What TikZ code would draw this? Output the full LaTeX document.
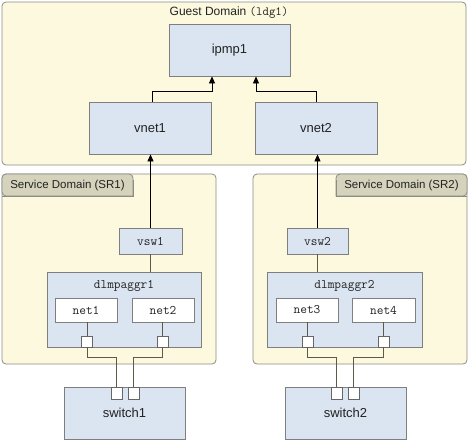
\documentclass[tikz,border=0pt]{standalone}
\usepackage{fontspec}
\setmainfont{Liberation Sans}
\usetikzlibrary{arrows.meta}
\definecolor{domfill}{HTML}{FCF9DE}
\definecolor{domline}{HTML}{8C8C86}
\definecolor{boxfill}{HTML}{DBE5F1}
\definecolor{boxline}{HTML}{7F7F7F}
\definecolor{tabfill}{HTML}{D6D3BD}
\definecolor{wire}{HTML}{5C5B4A}
\definecolor{txt}{HTML}{222222}
\tikzset{
  dombox/.style={draw=domline, fill=domfill, rounded corners=4pt, line width=0.8pt, inner sep=0pt},
  bluebox/.style={draw=boxline, fill=boxfill, line width=0.8pt, inner sep=0pt, text=txt, font=\fontsize{13}{15}\selectfont},
  monobox/.style={bluebox, font=\ttfamily\fontsize{13}{15}\selectfont},
  netbox/.style={draw=boxline, fill=white, line width=0.8pt, inner sep=0pt, text=txt, font=\ttfamily\fontsize{13}{15}\selectfont},
  portbox/.style={draw=boxline!80!black, fill=white, line width=0.8pt, inner sep=0pt, minimum width=11pt, minimum height=11pt},
  tablabel/.style={text=txt, font=\fontsize{11.5}{13}\selectfont},
  arr/.style={draw=black, line width=0.8pt, -{Triangle[length=7pt,width=6pt]}},
  conn/.style={draw=wire, line width=0.8pt}
}
\begin{document}
\begin{tikzpicture}[x=1pt,y=-1pt]
\useasboundingbox (0,0) rectangle (468,440);
% domains
\node[dombox, minimum width=464pt, minimum height=163pt] (guest) at (234,83.5) {};
\node[text=txt, font=\fontsize{12}{14}\selectfont] (guestlbl) at (229,13) {Guest Domain {\ttfamily\fontsize{12.5}{14}\selectfont(ldg1)}};
\node[dombox, minimum width=214pt, minimum height=190pt] (sr1) at (109,269) {};
\node[dombox, minimum width=214pt, minimum height=190pt] (sr2) at (360,269) {};
% tabs
\fill[tabfill, draw=domline, line width=0.8pt, rounded corners=4pt]
  (133,196) -- (133,174) -- (2,174) -- (2,196) [sharp corners] -- cycle;
\draw[domline, line width=0.8pt] (2,196) -- (133,196) -- (133,180);
\node[tablabel] (sr1lbl) at (67.5,185.5) {Service Domain (SR1)};
\fill[tabfill, draw=domline, line width=0.8pt, rounded corners=4pt]
  (336,196) -- (336,174) -- (467,174) -- (467,196) [sharp corners] -- cycle;
\draw[domline, line width=0.8pt] (467,196) -- (336,196) -- (336,180);
\node[tablabel] (sr2lbl) at (401.5,185.5) {Service Domain (SR2)};
% guest boxes
\node[bluebox, minimum width=121pt, minimum height=52pt] (ipmp) at (229.5,50) {ipmp1};
\node[bluebox, minimum width=122pt, minimum height=52pt] (vnet1) at (150,128) {vnet1};
\node[bluebox, minimum width=122pt, minimum height=52pt] (vnet2) at (316,128) {vnet2};
% service domain 1
\node[monobox, minimum width=63pt, minimum height=26pt] (vsw1) at (150.5,241) {vsw1};
\node[bluebox, minimum width=154pt, minimum height=75pt] (agg1) at (124,309.5) {};
\node[text=txt, font=\ttfamily\fontsize{13}{15}\selectfont] (agg1lbl) at (124,286) {dlmpaggr1};
\node[netbox, minimum width=62pt, minimum height=24pt] (net1) at (86,310) {net1};
\node[netbox, minimum width=62pt, minimum height=24pt] (net2) at (163,310) {net2};
\node[portbox] (p1) at (87,341.5) {};
\node[portbox] (p2) at (162.5,341.5) {};
\node[bluebox, minimum width=121pt, minimum height=52pt] (sw1) at (124.5,413) {\raisebox{-4pt}{switch1}};
\node[portbox, minimum height=12pt] (s1a) at (116.5,393) {};
\node[portbox, minimum height=12pt] (s1b) at (133.5,393) {};
% service domain 2
\node[monobox, minimum width=61pt, minimum height=26pt] (vsw2) at (317.5,241) {vsw2};
\node[bluebox, minimum width=155pt, minimum height=75pt] (agg2) at (344.5,309.5) {};
\node[text=txt, font=\ttfamily\fontsize{13}{15}\selectfont] (agg2lbl) at (344.5,286) {dlmpaggr2};
\node[netbox, minimum width=62pt, minimum height=24pt] (net3) at (307,310) {net3};
\node[netbox, minimum width=63pt, minimum height=24pt] (net4) at (383.5,310) {net4};
\node[portbox] (p3) at (307.5,341.5) {};
\node[portbox] (p4) at (383.5,341.5) {};
\node[bluebox, minimum width=121pt, minimum height=52pt] (sw2) at (345.5,413) {\raisebox{-4pt}{switch2}};
\node[portbox, minimum height=12pt] (s2a) at (336.5,393) {};
\node[portbox, minimum height=12pt] (s2b) at (353.5,393) {};
% connectors guest
\draw[arr] (vnet1.north -| 152,0) |- (212,91) -- (ipmp.south -| 212,0);
\draw[arr] (vnet2.north) |- (256,91) -- (ipmp.south -| 256,0);
\draw[arr] (vsw1.north) -- (vsw1.north |- vnet1.south);
\draw[arr] (vsw2.north) -- (vsw2.north |- vnet2.south);
% vsw to agg
\draw[conn] (vsw1.south) -- (vsw1.south |- agg1.north);
\draw[conn] (vsw2.south) -- (vsw2.south |- agg2.north);
% nets to ports
\draw[conn] (p1.north) -- (p1.north |- net1.south);
\draw[conn] (p2.north) -- (p2.north |- net2.south);
\draw[conn] (p3.north) -- (p3.north |- net3.south);
\draw[conn] (p4.north) -- (p4.north |- net4.south);
% ports to switches
\draw[conn] (p1.south) |- (116.5,357) -- (s1a.north);
\draw[conn] (p2.south) |- (133.5,357) -- (s1b.north);
\draw[conn] (p3.south) |- (336.5,357) -- (s2a.north);
\draw[conn] (p4.south) |- (353.5,357) -- (s2b.north);
\end{tikzpicture}
\end{document}
